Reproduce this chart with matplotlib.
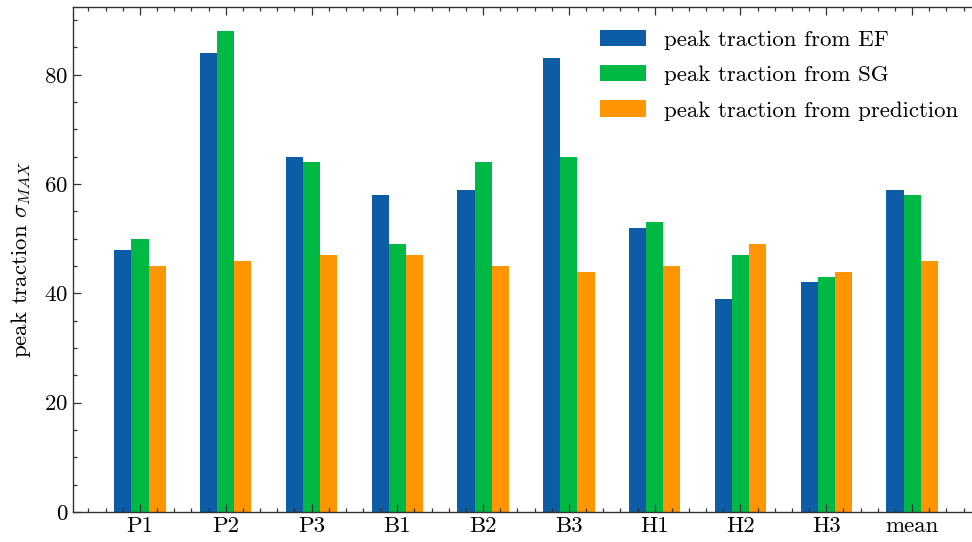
import numpy as np
import matplotlib
matplotlib.use('Agg')
import matplotlib.pyplot as plt
from matplotlib.ticker import AutoMinorLocator, MultipleLocator

# values
cats = ['P1', 'P2', 'P3', 'B1', 'B2', 'B3', 'H1', 'H2', 'H3', 'mean']
ef = [48, 84, 65, 58, 59, 83, 52, 39, 42, 59]
sg = [50, 88, 64, 49, 64, 65, 53, 47, 43, 58]
pred = [45, 46, 47, 47, 45, 44, 45, 49, 44, 46]

plt.rcParams['font.family'] = 'serif'
plt.rcParams['font.serif'] = ['cmr10', 'DejaVu Serif']
plt.rcParams['mathtext.fontset'] = 'cm'
plt.rcParams['axes.formatter.use_mathtext'] = True
plt.rcParams['font.size'] = 16.5

fig = plt.figure(figsize=(9.72, 5.42), dpi=100)
ax = fig.add_axes([73/972, 30/542, 906/972, 505/542])

x = np.arange(len(cats))
w = 0.2
ax.bar(x - w, ef, w, color='#0C5DA5', label='peak traction from EF')
ax.bar(x, sg, w, color='#00B945', label='peak traction from SG')
ax.bar(x + w, pred, w, color='#FF9500', label='peak traction from prediction')

ax.set_xticks(x)
ax.set_xticklabels(cats)
ax.set_ylabel(r'peak traction $\sigma_{MAX}$', labelpad=8)
ax.yaxis.set_major_locator(MultipleLocator(20))
ax.xaxis.set_minor_locator(AutoMinorLocator(5))
ax.yaxis.set_minor_locator(AutoMinorLocator(4))
ax.tick_params(which='both', direction='in', top=True, right=False, width=0.9, color='#333333')
ax.tick_params(which='major', length=6)
ax.tick_params(which='minor', length=3)
for s in ax.spines.values():
    s.set_linewidth(1.0)
    s.set_color('#333333')

ax.legend(loc='upper right', frameon=False, bbox_to_anchor=(1.0, 0.995), labelspacing=0.66)

plt.savefig('out.png', dpi=100)
